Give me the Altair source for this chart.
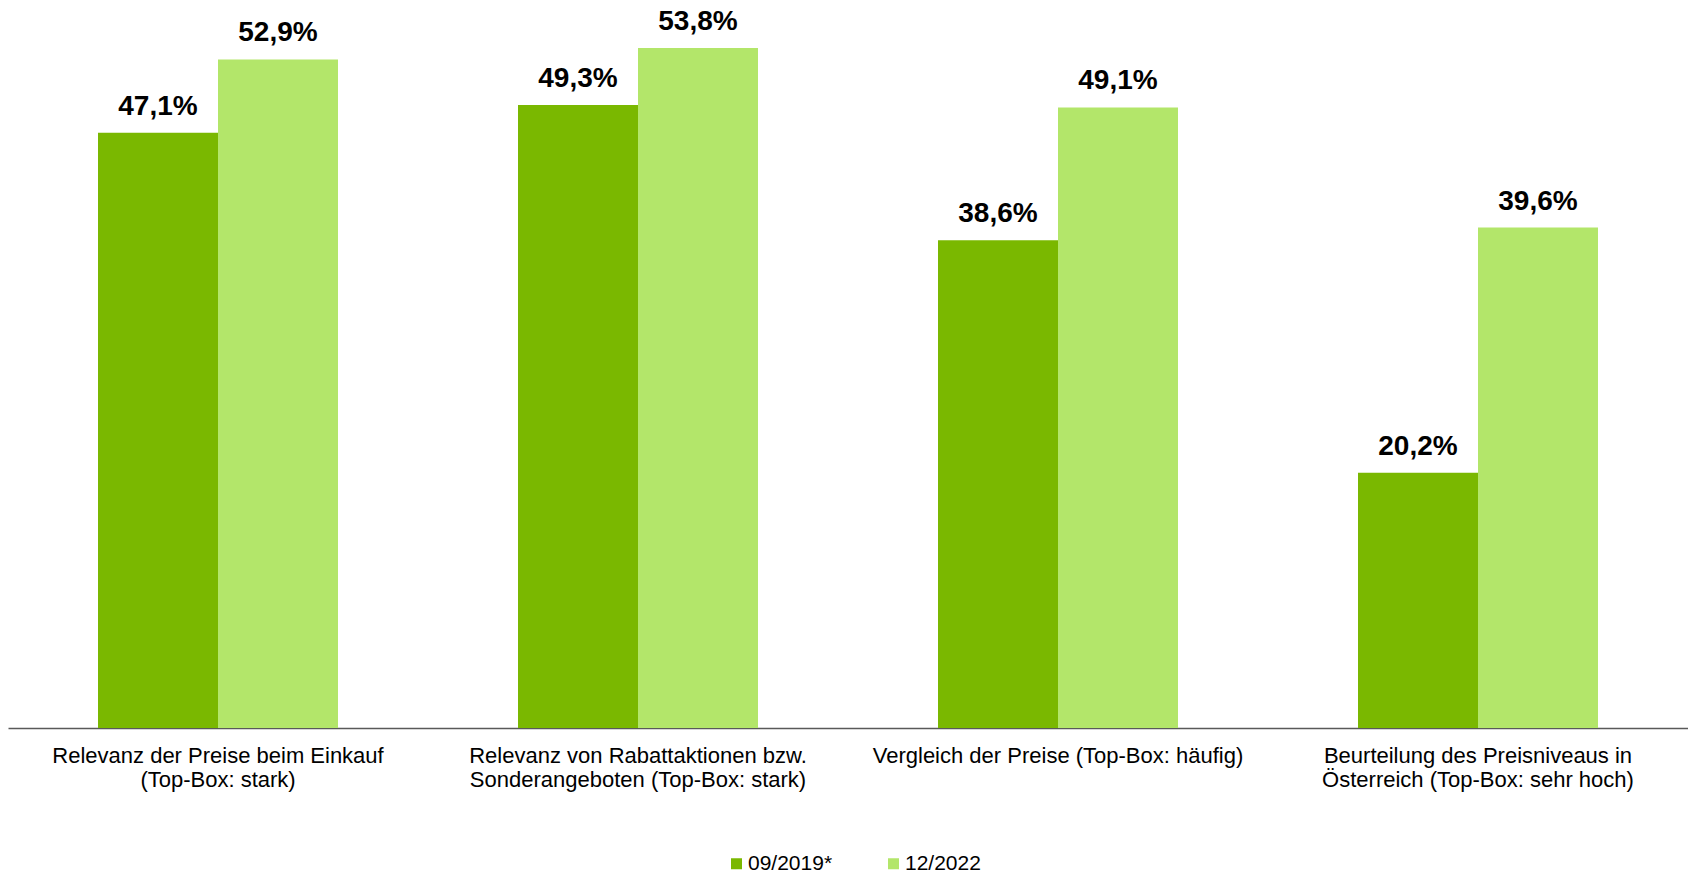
import altair as alt
import pandas as pd

categories = [
    "Relevanz der Preise beim Einkauf\n(Top-Box: stark)",
    "Relevanz von Rabattaktionen bzw.\nSonderangeboten (Top-Box: stark)",
    "Vergleich der Preise (Top-Box: häufig)",
    "Beurteilung des Preisniveaus in\nÖsterreich (Top-Box: sehr hoch)",
]
series = ["09/2019*", "12/2022"]
values_2019 = [47.1, 49.3, 38.6, 20.2]
values_2022 = [52.9, 53.8, 49.1, 39.6]
colors = ["#7AB800", "#B3E66A"]

rows = []
for c, a, b in zip(categories, values_2019, values_2022):
    for s, v in zip(series, [a, b]):
        rows.append({"cat": c, "series": s, "value": v,
                     "label": f"{v:.1f}".replace(".", ",") + "%"})
df = pd.DataFrame(rows)

FONT = "Liberation Sans"

x = alt.X("cat:N", sort=categories, title=None,
          scale=alt.Scale(paddingInner=0.4286, paddingOuter=0.2143),
          axis=alt.Axis(labelAngle=0, labelFontSize=22, labelFont=FONT,
                        labelColor="#000000", labelLineHeight=24,
                        labelExpr="split(datum.label, '\\n')",
                        labelPadding=17, ticks=False, domainColor="#595959",
                        domainWidth=1.5, labelBaseline="top", labelLimit=500))
xo = alt.XOffset("series:N", sort=series,
                 scale=alt.Scale(paddingInner=0, paddingOuter=0))
y = alt.Y("value:Q", scale=alt.Scale(domain=[0, 57.6], nice=False), axis=None)

bars = alt.Chart(df).mark_bar().encode(
    x=x, xOffset=xo, y=y,
    color=alt.Color("series:N", sort=series,
                    scale=alt.Scale(domain=series, range=colors),
                    legend=alt.Legend(title=None, orient="none", direction="horizontal",
                                      legendX=718, legendY=853,
                                      symbolType="square", symbolSize=121,
                                      symbolStrokeWidth=0, symbolOffset=0,
                                      labelFontSize=21, labelFont=FONT,
                                      labelColor="#000000", columnPadding=50,
                                      labelOffset=1)),
)

text = alt.Chart(df).mark_text(baseline="bottom", dy=-12, fontSize=28,
                               fontWeight="bold", font=FONT, color="#000000").encode(
    x=x, xOffset=xo, y=y, text="label:N"
)

chart = (bars + text).properties(
    width=1680, height=728,
    padding={"left": 8, "top": 0, "right": 0, "bottom": 0},
).configure_view(stroke=None)

chart.save("out.html", embed_options={"renderer": "svg", "actions": False})
